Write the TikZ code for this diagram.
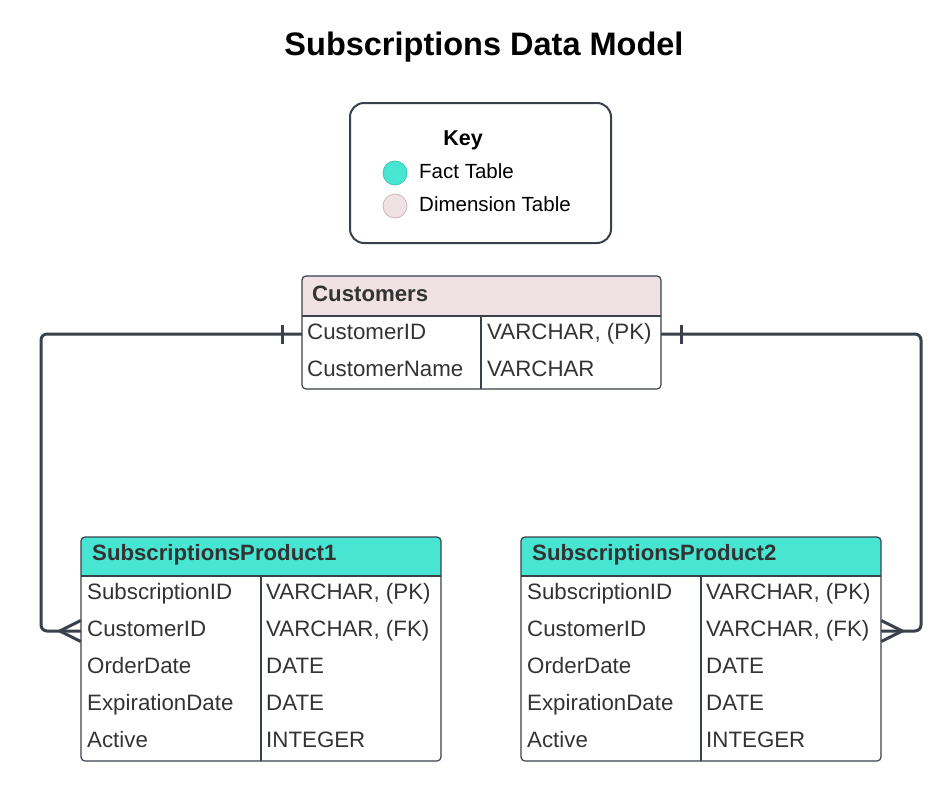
\documentclass[tikz,border=0pt]{standalone}
\usepackage{fontspec}
\setmainfont{Liberation Sans}
\usetikzlibrary{calc}
\definecolor{teal1}{HTML}{48E5D2}
\definecolor{tealedge}{HTML}{3CC7B5}
\definecolor{pink1}{HTML}{F0E1E4}
\definecolor{pinkedge}{HTML}{C9B6BA}
\definecolor{edge}{HTML}{3A414A}
\definecolor{txt}{HTML}{333333}
\begin{document}
\begin{tikzpicture}[x=1pt,y=-1pt,
  tabbox/.style={draw=edge, line width=1.2pt, rounded corners=4pt, inner sep=0pt},
  hdrtxt/.style={anchor=base west, font=\fontsize{22.2}{26}\selectfont\bfseries, text=txt, inner sep=0pt},
  celltxt/.style={anchor=base west, font=\fontsize{22.3}{26}\selectfont, text=txt, inner sep=0pt},
  keytxt/.style={anchor=base west, font=\fontsize{20.5}{24}\selectfont, text=black, inner sep=0pt},
  rowcell/.style={minimum width=360pt, minimum height=37pt, inner sep=0pt},
  divider/.style={draw=edge, line width=1.2pt},
  conn/.style={draw=edge, line width=3pt, rounded corners=6pt},
  tickmark/.style={draw=edge, line width=3pt, line cap=butt}
]
\useasboundingbox (0,0) rectangle (950,808);

% Title
\node[anchor=base, font=\fontsize{32.5}{38}\selectfont\bfseries, inner sep=0pt] (title) at (484,56) {Subscriptions Data Model};

% Key
\node[draw=edge, line width=2pt, rounded corners=14pt, minimum width=261pt, minimum height=140pt, inner sep=0pt] (key) at (480.5,173) {};
\node[anchor=base, font=\fontsize{21.5}{26}\selectfont\bfseries, inner sep=0pt] (keytitle) at (463,145) {Key};
\node[circle, fill=teal1, draw=tealedge, line width=0.8pt, minimum size=24pt, inner sep=0pt] (factdot) at (395,173) {};
\node[circle, fill=pink1, draw=pinkedge, line width=0.8pt, minimum size=24pt, inner sep=0pt] (dimdot) at (395,206) {};
\node[keytxt] (factlbl) at (419,178.5) {Fact Table};
\node[keytxt] (dimlbl) at (419,211.5) {Dimension Table};

% Customers table
\begin{scope}
  \clip[rounded corners=4pt] (302,276) rectangle (661,389);
  \fill[pink1] (302,276) rectangle (661,316);
\end{scope}
\node[tabbox, minimum width=359pt, minimum height=113pt] (cust) at (481.5,332.5) {};
\draw[divider] (302,316) -- (661,316);
\draw[divider] (481,316) -- (481,389);
\node[rowcell, minimum width=359pt, minimum height=36pt] (c1) at (481.5,334) {};
\node[rowcell, minimum width=359pt, minimum height=36pt] (c2) at (481.5,370.5) {};
\node[hdrtxt] (custh) at (312,301.5) {Customers};
\node[celltxt] (c1a) at (307,339.5) {CustomerID};
\node[celltxt] (c1b) at (487,339.5) {VARCHAR, (PK)};
\node[celltxt] (c2a) at (307,376.5) {CustomerName};
\node[celltxt] (c2b) at (487,376.5) {VARCHAR};

% SubscriptionsProduct1
\begin{scope}
  \clip[rounded corners=4pt] (81,537) rectangle (441,761);
  \fill[teal1] (81,537) rectangle (441,576);
\end{scope}
\node[tabbox, minimum width=360pt, minimum height=224pt] (sp1) at (261,649) {};
\draw[divider] (81,576) -- (441,576);
\draw[divider] (261,576) -- (261,761);
\node[rowcell] (s1r1) at (261,594.5) {};
\node[rowcell] (s1r2) at (261,631) {};
\node[hdrtxt] (s1h) at (92,560.5) {SubscriptionsProduct1};
\node[celltxt] at (87,599.5) {SubscriptionID};
\node[celltxt] at (266,599.5) {VARCHAR, (PK)};
\node[celltxt] at (87,636.5) {CustomerID};
\node[celltxt] at (266,636.5) {VARCHAR, (FK)};
\node[celltxt] at (87,673.5) {OrderDate};
\node[celltxt] at (266,673.5) {DATE};
\node[celltxt] at (87,710.5) {ExpirationDate};
\node[celltxt] at (266,710.5) {DATE};
\node[celltxt] at (87,747.5) {Active};
\node[celltxt] at (266,747.5) {INTEGER};

% SubscriptionsProduct2
\begin{scope}
  \clip[rounded corners=4pt] (521,537) rectangle (881,761);
  \fill[teal1] (521,537) rectangle (881,576);
\end{scope}
\node[tabbox, minimum width=360pt, minimum height=224pt] (sp2) at (701,649) {};
\draw[divider] (521,576) -- (881,576);
\draw[divider] (701,576) -- (701,761);
\node[rowcell] (s2r1) at (701,594.5) {};
\node[rowcell] (s2r2) at (701,631) {};
\node[hdrtxt] (s2h) at (532,560.5) {SubscriptionsProduct2};
\node[celltxt] at (527,599.5) {SubscriptionID};
\node[celltxt] at (706,599.5) {VARCHAR, (PK)};
\node[celltxt] at (527,636.5) {CustomerID};
\node[celltxt] at (706,636.5) {VARCHAR, (FK)};
\node[celltxt] at (527,673.5) {OrderDate};
\node[celltxt] at (706,673.5) {DATE};
\node[celltxt] at (527,710.5) {ExpirationDate};
\node[celltxt] at (706,710.5) {DATE};
\node[celltxt] at (527,747.5) {Active};
\node[celltxt] at (706,747.5) {INTEGER};

% Connectors
\coordinate (lx) at (41,0);
\coordinate (rx) at (921,0);
\draw[conn] (c1.west) -- (c1.west -| lx) -- (lx |- s1r2.west) -- (s1r2.west);
\draw[conn] (c1.east) -- (c1.east -| rx) -- (rx |- s2r2.east) -- (s2r2.east);

% Customers-side bars
\draw[tickmark] ($(c1.west)+(-19,-9.5)$) -- ($(c1.west)+(-19,9.5)$);
\draw[tickmark] ($(c1.east)+(20,-9.5)$) -- ($(c1.east)+(20,9.5)$);

% crow's feet
\draw[tickmark] ($(s1r2.west)+(0,-10.5)$) -- ($(s1r2.west)+(-21,0)$) -- ($(s1r2.west)+(0,10.5)$);
\draw[tickmark] ($(s2r2.east)+(0,-10.5)$) -- ($(s2r2.east)+(21,0)$) -- ($(s2r2.east)+(0,10.5)$);
\end{tikzpicture}
\end{document}
